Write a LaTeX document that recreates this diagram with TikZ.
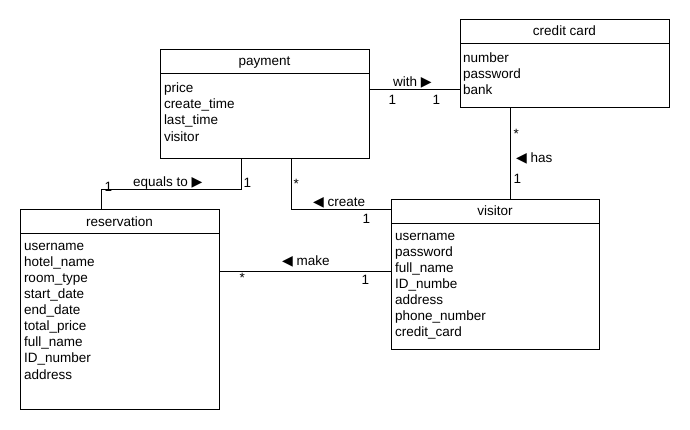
\documentclass[tikz,border=0pt]{standalone}
\usepackage{fontspec}
\setmainfont{Liberation Sans}
\newfontfamily\symfont{DejaVu Sans}
\usetikzlibrary{positioning}

\newcommand{\rarr}{{\symfont\fontsize{14}{14}\selectfont ▶}}
\newcommand{\larr}{{\symfont\fontsize{14}{14}\selectfont ◀}}

\begin{document}
\begin{tikzpicture}[x=1pt, y=-1pt, outer sep=0pt, line width=1pt,
  font=\fontsize{13.5}{16.1}\selectfont,
  classhead/.style={draw, minimum height=24pt, inner sep=0pt, text height=10.25pt, text depth=2.25pt},
  classbody/.style={draw, inner sep=0pt},
  attrtext/.style={anchor=north west, align=left, inner xsep=4pt, inner ysep=9pt},
  lbl/.style={anchor=base west, inner sep=0pt}]

\useasboundingbox (0,0) rectangle (690,430);

%\draw[step=10, gray!20, very thin] (0,0) grid (690,430);

% classes
\node[classhead, minimum width=209pt] (payment) at (264.5,62) {payment};
\node[classbody, minimum width=209pt, minimum height=85pt, below=0pt of payment] (paymentbody) {};
\node[attrtext] (paymentattr) at (paymentbody.north west) {price\\create\_time\\last\_time\\visitor};

\node[classhead, minimum width=209pt] (card) at (564.5,32) {credit card};
\node[classbody, minimum width=209pt, minimum height=64pt, below=0pt of card] (cardbody) {};
\node[attrtext, inner xsep=3pt] (cardattr) at (cardbody.north west) {number\\password\\bank};

\node[classhead, minimum width=199pt] (reservation) at (119.5,222) {reservation};
\node[classbody, minimum width=199pt, minimum height=175pt, below=0pt of reservation] (reservationbody) {};
\node[attrtext] (reservationattr) at (reservationbody.north west)
  {username\\hotel\_name\\room\_type\\start\_date\\end\_date\\total\_price\\full\_name\\ID\_number\\address};

\node[classhead, minimum width=208pt] (visitor) at (495,212) {visitor};
\node[classbody, minimum width=208pt, minimum height=125pt, below=0pt of visitor] (visitorbody) {};
\node[attrtext] (visitorattr) at (visitorbody.north west)
  {username\\password\\full\_name\\ID\_numbe\\address\\phone\_number\\credit\_card};

% bends of the links
\coordinate (withy) at (0,90);
\coordinate (hasx) at (510.5,0);
\coordinate (eqa) at (101,0);
\coordinate (eqb) at (241,190);
\coordinate (cr) at (291,210);
\coordinate (mky) at (0,271);

\draw (paymentbody.east |- withy) -- (cardbody.west |- withy);
\draw (cardbody.south -| hasx) -- (visitor.north -| hasx);
\draw (reservation.north -| eqa) |- (eqb) -- (paymentbody.south -| eqb);
\draw (paymentbody.south -| cr) |- (visitor.west |- cr);
\draw (reservationbody.east |- mky) -- (visitorbody.west |- mky);

% labels
\node[lbl] (withlbl) at (393,87) {with \rarr};
\node[lbl] (with1a) at (388.5,105) {1};
\node[lbl] (with1b) at (432.5,105) {1};

\node[lbl] (hasstar) at (513.5,138.5) {*};
\node[lbl] (haslbl) at (516,163) {\larr\ has};
\node[lbl] (has1) at (513.5,184) {1};

\node[lbl] (eq1a) at (104.5,192) {1};
\node[lbl] (eqlbl) at (133,186.5) {equals to \rarr};
\node[lbl] (eq1b) at (243.5,188) {1};

\node[lbl] (crstar) at (293.5,188.5) {*};
\node[lbl] (crlbl) at (313,206.5) {\larr\ create};
\node[lbl] (cr1) at (362.5,224) {1};

\node[lbl] (mklbl) at (282,265.5) {\larr\ make};
\node[lbl] (mkstar) at (239.5,282.5) {*};
\node[lbl] (mk1) at (361.5,284) {1};

\end{tikzpicture}
\end{document}
